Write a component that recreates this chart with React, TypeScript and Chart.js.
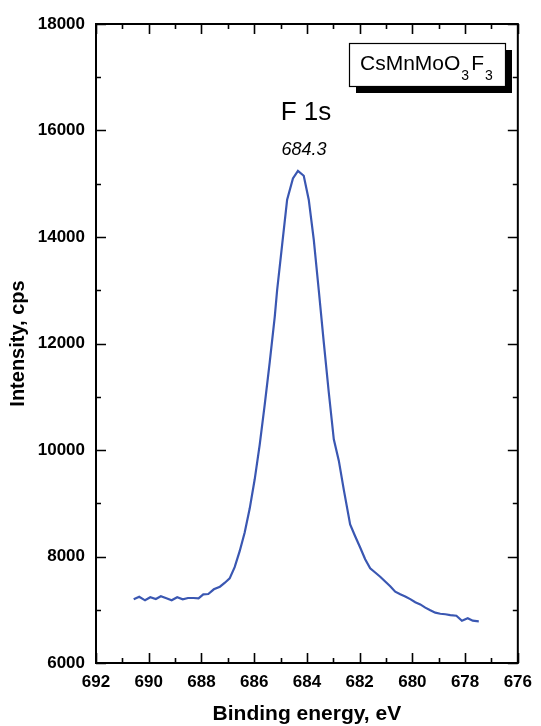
import React, { useEffect, useRef } from "react";
import { Chart, registerables } from "chart.js";

Chart.register(...registerables);

// Binding energy (eV) and intensity (cps)
const bindingEnergy = [
  690.57, 690.36, 690.14, 689.94, 689.73, 689.54, 689.33, 689.13, 688.92, 688.71,
  688.51, 688.30, 688.11, 687.93, 687.74, 687.53, 687.30, 687.11, 686.93, 686.74,
  686.55, 686.36, 686.17, 685.98, 685.79, 685.60, 685.41, 685.22, 685.13, 684.94,
  684.75, 684.53, 684.34, 684.12, 683.93, 683.74, 683.55, 683.36, 683.17, 682.98,
  682.79, 682.60, 682.36, 682.17, 681.98, 681.79, 681.60, 681.41, 681.22, 681.03,
  680.84, 680.65, 680.46, 680.27, 680.08, 679.89, 679.70, 679.51, 679.32, 679.13,
  678.94, 678.75, 678.56, 678.33, 678.12, 677.90, 677.71, 677.48,
];
const intensity = [
  7196, 7245, 7177, 7234, 7202, 7253, 7215, 7177, 7234, 7196,
  7221, 7221, 7215, 7290, 7296, 7384, 7433, 7508, 7590, 7800,
  8100, 8450, 8900, 9450, 10100, 10850, 11650, 12500, 13000, 13850,
  14700, 15100, 15240, 15150, 14700, 13950, 13000, 12020, 11080, 10200,
  9800, 9250, 8600, 8380, 8170, 7950, 7780, 7700, 7620, 7530,
  7440, 7340, 7290, 7250, 7200, 7140, 7100, 7040, 6990, 6945,
  6925, 6915, 6900, 6888, 6794, 6839, 6794, 6783,
];

const xMin = 676;
const xMax = 692;
const yMin = 6000;
const yMax = 18000;
const xMajorStep = 2;
const yMajorStep = 2000;
const xMinorStep = 1;
const yMinorStep = 1000;

const peakLabel = "F 1s";
const peakPosition = "684.3";
const compoundMain = ["CsMnMoO", "F"];
const compoundSub = ["3", "3"];

const FONT = "'Liberation Sans', Arial, Helvetica, sans-serif";
const LINE_COLOR = "#3a57b2";

const framePlugin = {
  id: "frameTicks",
  afterDraw(chart: any) {
    const { ctx, chartArea } = chart;
    const { left, right, top, bottom } = chartArea;
    const xs = chart.scales.x;
    const ys = chart.scales.y;
    ctx.save();
    ctx.strokeStyle = "#000";
    ctx.lineWidth = 2;
    ctx.strokeRect(left, top, right - left, bottom - top);

    ctx.lineWidth = 1.6;
    ctx.beginPath();
    for (let v = xMin; v <= xMax; v += xMinorStep) {
      const px = Math.round(xs.getPixelForValue(v)) + 0.5;
      const len = v % xMajorStep === 0 ? 10 : 5;
      ctx.moveTo(px, bottom);
      ctx.lineTo(px, bottom - len);
      ctx.moveTo(px, top);
      ctx.lineTo(px, top + len);
    }
    for (let v = yMin; v <= yMax; v += yMinorStep) {
      const py = Math.round(ys.getPixelForValue(v)) + 0.5;
      const len = v % yMajorStep === 0 ? 10 : 5;
      ctx.moveTo(left, py);
      ctx.lineTo(left + len, py);
      ctx.moveTo(right, py);
      ctx.lineTo(right - len, py);
    }
    ctx.stroke();

    // Peak labels
    ctx.fillStyle = "#000";
    ctx.textAlign = "center";
    ctx.textBaseline = "alphabetic";
    ctx.font = `26px ${FONT}`;
    ctx.fillText(peakLabel, 306, 120);
    ctx.font = `italic 18px ${FONT}`;
    ctx.fillText(peakPosition, 304, 155);

    // Compound box with shadow
    const bx = 349, by = 43, bw = 156, bh = 43, sh = 7;
    ctx.fillStyle = "#000";
    ctx.fillRect(bx + sh, by + sh, bw, bh);
    ctx.fillStyle = "#fff";
    ctx.fillRect(bx, by, bw, bh);
    ctx.strokeStyle = "#000";
    ctx.lineWidth = 1.2;
    ctx.strokeRect(bx + 0.5, by + 0.5, bw, bh);

    ctx.fillStyle = "#000";
    ctx.textAlign = "left";
    let tx = 360;
    const base = 70;
    for (let i = 0; i < compoundMain.length; i++) {
      ctx.font = `21px ${FONT}`;
      ctx.fillText(compoundMain[i], tx, base);
      tx += ctx.measureText(compoundMain[i]).width + 1;
      ctx.font = `14px ${FONT}`;
      ctx.fillText(compoundSub[i], tx, base + 10);
      tx += ctx.measureText(compoundSub[i]).width + 2;
    }
    ctx.restore();
  },
};

export default function App() {
  const canvasRef = useRef<HTMLCanvasElement | null>(null);

  useEffect(() => {
    const canvas = canvasRef.current;
    if (!canvas) return;
    const points = bindingEnergy.map((e, i) => ({ x: e, y: intensity[i] }));
    const chart = new Chart(canvas, {
      type: "line",
      data: {
        datasets: [
          {
            data: points,
            borderColor: LINE_COLOR,
            borderWidth: 2.2,
            pointRadius: 0,
            tension: 0,
            fill: false,
          },
        ],
      },
      options: {
        animation: false,
        responsive: false,
        devicePixelRatio: 1,
        parsing: true,
        layout: { padding: { left: 0, right: 17, top: 24, bottom: 0 } },
        plugins: {
          legend: { display: false },
          tooltip: { enabled: false },
          title: { display: false },
        },
        scales: {
          x: {
            type: "linear",
            reverse: true,
            min: xMin,
            max: xMax,
            grid: { display: false, drawTicks: false },
            border: { display: false },
            ticks: {
              stepSize: xMajorStep,
              color: "#000",
              padding: 9,
              font: { family: FONT, size: 17, weight: "bold" },
              maxRotation: 0,
              callback: (v: any) => String(v),
            },
            title: {
              display: true,
              text: "Binding energy, eV",
              color: "#000",
              font: { family: FONT, size: 21, weight: "bold", lineHeight: 1 },
              padding: { top: 0, bottom: 1 },
            },
            afterFit: (scale: any) => {
              scale.height = 63;
            },
          },
          y: {
            type: "linear",
            min: yMin,
            max: yMax,
            grid: { display: false, drawTicks: false },
            border: { display: false },
            ticks: {
              stepSize: yMajorStep,
              color: "#000",
              padding: 11,
              font: { family: FONT, size: 17, weight: "bold" },
              callback: (v: any) => String(v),
            },
            title: {
              display: true,
              text: "Intensity, cps",
              color: "#000",
              font: { family: FONT, size: 20, weight: "bold", lineHeight: 1 },
              padding: { top: 8, bottom: 0 },
            },
            afterFit: (scale: any) => {
              scale.width = 96;
            },
          },
        },
      },
      plugins: [framePlugin],
    });
    return () => chart.destroy();
  }, []);

  return (
    <div style={{ position: "fixed", left: 0, top: 0, width: 541, height: 726, background: "#fff" }}>
      <canvas ref={canvasRef} width={541} height={726} style={{ display: "block" }} />
    </div>
  );
}
